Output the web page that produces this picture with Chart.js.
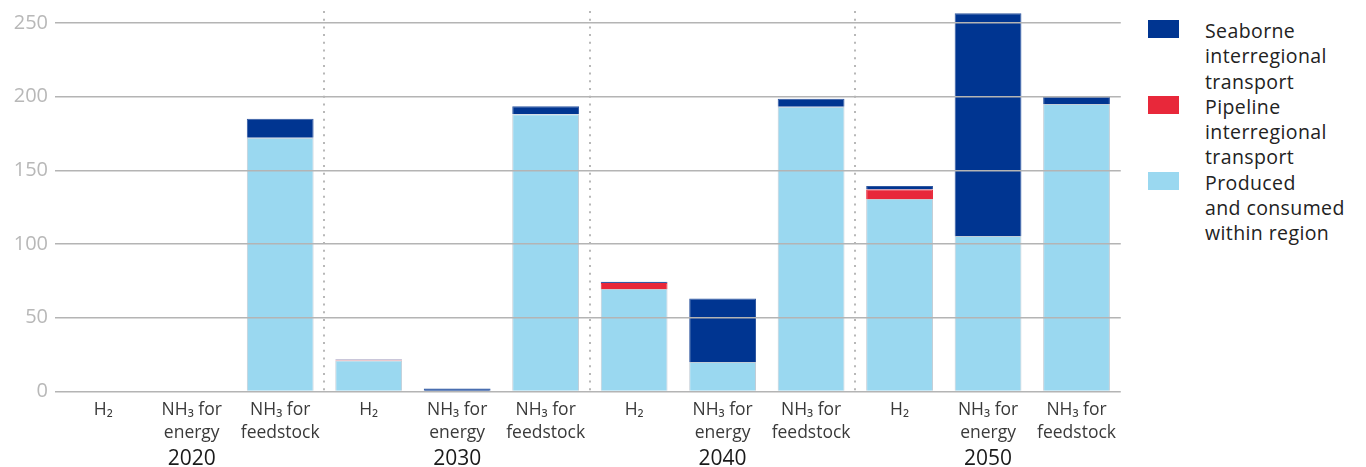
<!DOCTYPE html>
<html>
<head>
<meta charset="UTF-8">
<title>Hydrogen and ammonia trade</title>
<style>
	body { margin: 0; background: #fff; font-family: "Open Sans", sans-serif; overflow: hidden; }
	#wrap { position: relative; width: 1366px; height: 467px; overflow: hidden; }
	#box { position: absolute; left: 2px; top: -8px; width: 1121px; height: 475px; }
	#legend { position: absolute; left: 1148px; top: 18px; }
	.item { position: relative; padding-left: 57px; font-size: 19.5px; letter-spacing: 0.4px; line-height: 25.3px; color: #222; }
	.sw { position: absolute; left: 0; top: 2px; width: 31px; height: 18px; }
</style>
<script src="https://cdn.jsdelivr.net/npm/chart.js"></script>
</head>
<body>
<div id="wrap">
	<div id="box"><canvas id="barChart"></canvas></div>
	<div id="legend"></div>
</div>

<script>
	// 카테고리 / 연도
	const categories = [
		['H₂'], ['NH₃ for', 'energy'], ['NH₃ for', 'feedstock'],
		['H₂'], ['NH₃ for', 'energy'], ['NH₃ for', 'feedstock'],
		['H₂'], ['NH₃ for', 'energy'], ['NH₃ for', 'feedstock'],
		['H₂'], ['NH₃ for', 'energy'], ['NH₃ for', 'feedstock']
	];
	const years = ['2020', '2030', '2040', '2050'];

	// 시리즈 값 (아래부터 쌓임)
	const produced = [0, 0, 172,  21, 0, 188,  69.5, 20, 193,  130.5, 105.5, 195];
	const pipeline = [0, 0, 0,    0.6, 0, 0,   4, 0, 0,       6.5, 0, 0];
	const seaborne = [0, 0, 13,   0.3, 2, 5.5, 1, 43, 5.5,    2.3, 151, 5];

	const yTicks = [0, 50, 100, 150, 200, 250];

	const series = [
		{ label: ['Produced', 'and consumed', 'within region'], data: produced, color: '#9ad8f0', border: '#c2cdd6' },
		{ label: ['Pipeline', 'interregional', 'transport'], data: pipeline, color: '#e8283a', border: '#e8283a' },
		{ label: ['Seaborne', 'interregional', 'transport'], data: seaborne, color: '#003591', border: '#2f57a0' }
	];

	// 범례 (역순)
	const legend = document.getElementById('legend');
	series.slice().reverse().forEach(function(s){
		const div = document.createElement('div');
		div.className = 'item';
		div.innerHTML = '<span class="sw" style="background:' + s.color + '"></span>' + s.label.join('<br>');
		legend.appendChild(div);
	});

	// 연도 라벨 그리기 (가운데 카테고리 아래)
	const yearLabels = {
		id: 'yearLabels',
		afterDraw(chart){
			const x = chart.scales.x;
			const ctx = chart.ctx;
			ctx.save();
			ctx.font = '21px "Open Sans", sans-serif';
			ctx.fillStyle = '#1a1a1a';
			ctx.textAlign = 'center';
			ctx.textBaseline = 'middle';
			years.forEach(function(y, i){
				ctx.fillText(y, x.getPixelForValue(i * 3 + 1), x.bottom - 8);
			});
			ctx.restore();
		}
	};

	const ctx = document.getElementById('barChart').getContext('2d');
	new Chart(ctx, {
		type: 'bar',
		data: {
			labels: categories,
			datasets: series.map(function(s){
				return {
					label: s.label.join(' '),
					data: s.data,
					backgroundColor: s.color,
					borderColor: s.border,
					borderWidth: 1,
					borderSkipped: 'bottom',
					categoryPercentage: 1,
					barPercentage: 0.755
				};
			})
		},
		options: {
			responsive: true,
			maintainAspectRatio: false,
			animation: false,
			layout: { padding: 0 },
			plugins: {
				legend: { display: false },
				tooltip: { enabled: false }
			},
			scales: {
				x: {
					stacked: true,
					grid: {
						offset: true,
						drawTicks: false,
						lineWidth: 2,
						color: function(c){
							return (c.index % 3 === 0 && c.index > 0 && c.index < 12) ? '#b8b8b8' : 'rgba(0,0,0,0)';
						}
					},
					border: { display: false, dash: [2, 5.7] },
					ticks: {
						maxRotation: 0,
						autoSkip: false,
						padding: 7,
						color: '#3a3a3a',
						font: { family: '"Open Sans", sans-serif', size: 17.5, lineHeight: 1.33 }
					},
					afterFit: function(s){ s.height = 75.5; }
				},
				y: {
					stacked: true,
					min: 0,
					max: 258,
					grid: { color: '#b4b4b4', lineWidth: 1.5, tickLength: 4, z: 1 },
					border: { display: false },
					ticks: {
						stepSize: 50,
						padding: 7,
						color: '#b8b8b8',
						font: { family: '"Open Sans", sans-serif', size: 20 }
					},
					afterBuildTicks: function(s){
						s.ticks = yTicks.map(function(v){ return { value: v }; });
					},
					afterFit: function(s){ s.width = 57; }
				}
			}
		},
		plugins: [yearLabels]
	});
</script>
</body>
</html>
